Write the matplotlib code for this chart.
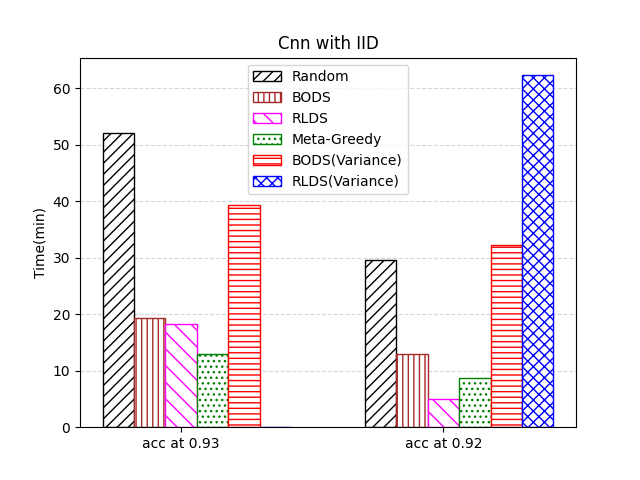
import matplotlib
matplotlib.use("Agg")
import matplotlib.pyplot as plt
import numpy as np

labels = ['acc at 0.93', 'acc at 0.92']
methods = ['Random', 'BODS', 'RLDS', 'Meta-Greedy', 'BODS(Variance)', 'RLDS(Variance)']
random_t = [52.0, 29.6]
bods_t = [19.3, 12.9]
rlds_t = [18.2, 5.0]
meta_t = [12.9, 8.7]
bods_var_t = [39.3, 32.2]
rlds_var_t = [0.05, 62.3]

series = [random_t, bods_t, rlds_t, meta_t, bods_var_t, rlds_var_t]
colors = ['black', 'brown', 'magenta', 'green', 'red', 'blue']
hatches = ['///', '|||', '\\\\', '...', '---', 'xxx']

x = np.arange(len(labels))
w = 0.12

fig, ax = plt.subplots(figsize=(6.4, 4.8), dpi=100)
for i, (vals, c, h, m) in enumerate(zip(series, colors, hatches, methods)):
    ax.bar(x + (i - 2) * w, vals, w, label=m, color='white', edgecolor=c, hatch=h)

ax.set_xticks(x)
ax.set_xticklabels(labels)
ax.set_ylabel('Time(min)')
ax.set_title('Cnn with IID')
ax.grid(axis='y', linestyle='--', alpha=0.5)
ax.set_axisbelow(True)
ax.legend(loc='upper center')
plt.savefig('out.png')
